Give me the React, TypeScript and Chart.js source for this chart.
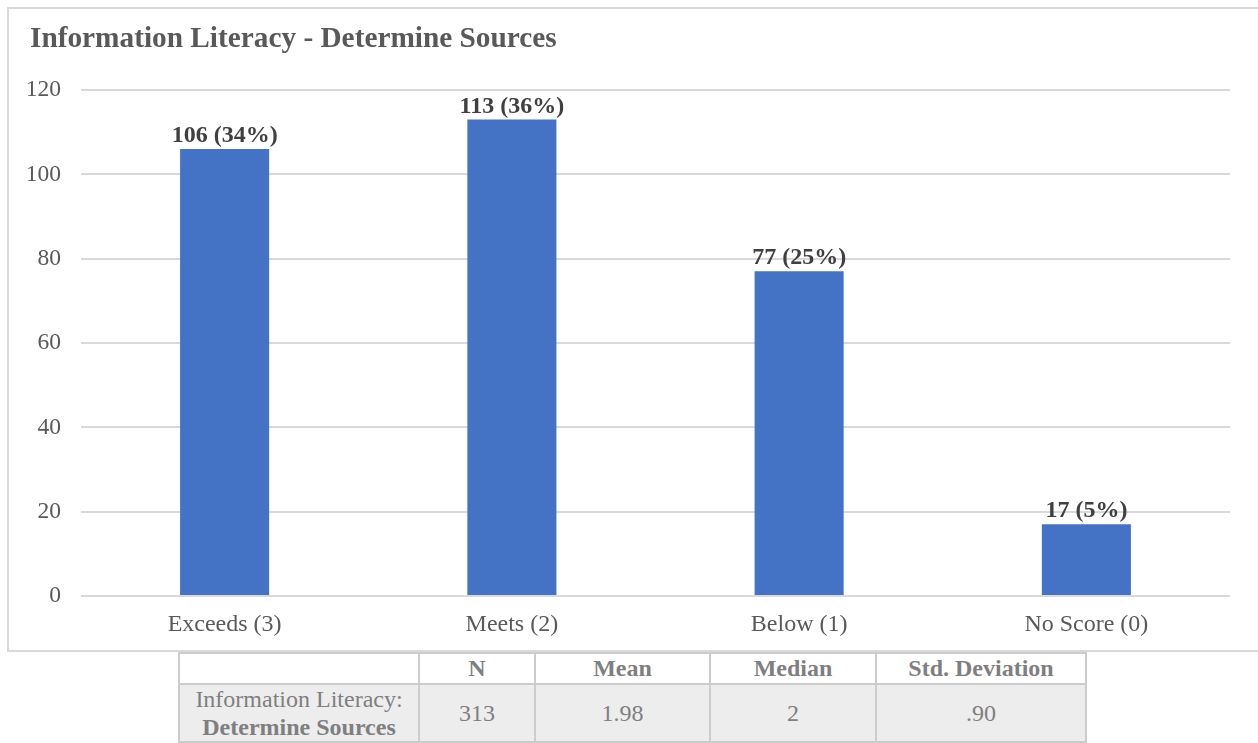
import React, { useEffect, useRef } from "react";
import { Chart, registerables } from "chart.js";

Chart.register(...registerables);

const categories = ["Exceeds (3)", "Meets (2)", "Below (1)", "No Score (0)"];
const counts = [106, 113, 77, 17];
const percents = ["34%", "36%", "25%", "5%"];
const yTicks = [0, 20, 40, 60, 80, 100, 120];
const chartTitle = "Information Literacy - Determine Sources";

const tableHeaders = ["", "N", "Mean", "Median", "Std. Deviation"];
const rowLabelTop = "Information Literacy:";
const rowLabelBottom = "Determine Sources";
const rowValues = ["313", "1.98", "2", ".90"];

const SERIF = '"Liberation Serif", "Times New Roman", serif';

export default function App() {
  const canvasRef = useRef<HTMLCanvasElement | null>(null);

  useEffect(() => {
    document.body.style.margin = "0";
    const canvas = canvasRef.current;
    if (!canvas) return;

    const titlePlugin = {
      id: "customTitle",
      afterDraw(chart: any) {
        const ctx = chart.ctx;
        ctx.save();
        ctx.font = `bold 29.3px ${SERIF}`;
        ctx.fillStyle = "#595959";
        ctx.textAlign = "left";
        ctx.textBaseline = "alphabetic";
        ctx.fillText(chartTitle, 21, 38);
        ctx.restore();
      },
    };

    const labelPlugin = {
      id: "barLabels",
      afterDatasetsDraw(chart: any) {
        const ctx = chart.ctx;
        const meta = chart.getDatasetMeta(0);
        ctx.save();
        ctx.font = `bold 24px ${SERIF}`;
        ctx.fillStyle = "#404040";
        ctx.textAlign = "center";
        ctx.textBaseline = "alphabetic";
        meta.data.forEach((bar: any, i: number) => {
          ctx.fillText(`${counts[i]} (${percents[i]})`, bar.x, bar.y - 7);
        });
        ctx.restore();
      },
    };

    const chart = new Chart(canvas, {
      type: "bar",
      data: {
        labels: categories,
        datasets: [
          {
            data: counts,
            backgroundColor: "#4472C4",
            borderWidth: 0,
            barPercentage: 0.62,
            categoryPercentage: 0.5,
          },
        ],
      },
      options: {
        animation: false,
        responsive: false,
        maintainAspectRatio: false,
        layout: { padding: { left: 0, right: 28, top: 81, bottom: 0 } },
        plugins: {
          legend: { display: false },
          title: { display: false },
          tooltip: { enabled: false },
        },
        scales: {
          x: {
            grid: { display: false, drawTicks: false },
            border: { display: false },
            ticks: {
              color: "#595959",
              font: { family: SERIF, size: 24 },
              padding: 14,
            },
            afterFit(scale: any) {
              scale.height = 54;
            },
          },
          y: {
            min: 0,
            max: 120,
            afterBuildTicks(scale: any) {
              scale.ticks = yTicks.map((v) => ({ value: v }));
            },
            grid: { color: "#d9d9d9", lineWidth: 2, drawTicks: false },
            border: { display: false },
            ticks: {
              color: "#595959",
              font: { family: SERIF, size: 23.5 },
              padding: 20,
            },
            afterFit(scale: any) {
              scale.width = 72;
            },
          },
        },
      },
      plugins: [titlePlugin, labelPlugin],
    });

    return () => chart.destroy();
  }, []);

  const cellBorder = "2px solid #cccccc";
  const textColor = "#7f7f7f";
  const colWidths = [240, 116, 175, 166, 210];

  return (
    <div style={{ position: "relative", width: 1258, height: 743, overflow: "hidden", background: "#fff" }}>
      <div
        style={{
          position: "absolute",
          left: 7,
          top: 7,
          width: 1260,
          height: 641,
          border: "2px solid #d9d9d9",
        }}
      >
        <canvas ref={canvasRef} width={1249} height={641} style={{ display: "block" }} />
      </div>
      <table
        style={{
          position: "absolute",
          left: 178,
          top: 652,
          borderCollapse: "collapse",
          fontFamily: SERIF,
          fontSize: 24,
          color: textColor,
          textAlign: "center",
          tableLayout: "fixed",
          width: 907,
        }}
      >
        <colgroup>
          {colWidths.map((w, i) => (
            <col key={i} style={{ width: w }} />
          ))}
        </colgroup>
        <tbody>
          <tr style={{ height: 31, background: "#ffffff" }}>
            {tableHeaders.map((h, i) => (
              <th key={i} style={{ border: cellBorder, padding: 0, fontWeight: "bold", lineHeight: "27px" }}>
                {h}
              </th>
            ))}
          </tr>
          <tr style={{ height: 58, background: "#ededed" }}>
            <td style={{ border: cellBorder, padding: 0, lineHeight: "28px" }}>
              {rowLabelTop}
              <br />
              <b>{rowLabelBottom}</b>
            </td>
            {rowValues.map((v, i) => (
              <td key={i} style={{ border: cellBorder, padding: 0 }}>
                {v}
              </td>
            ))}
          </tr>
        </tbody>
      </table>
    </div>
  );
}
